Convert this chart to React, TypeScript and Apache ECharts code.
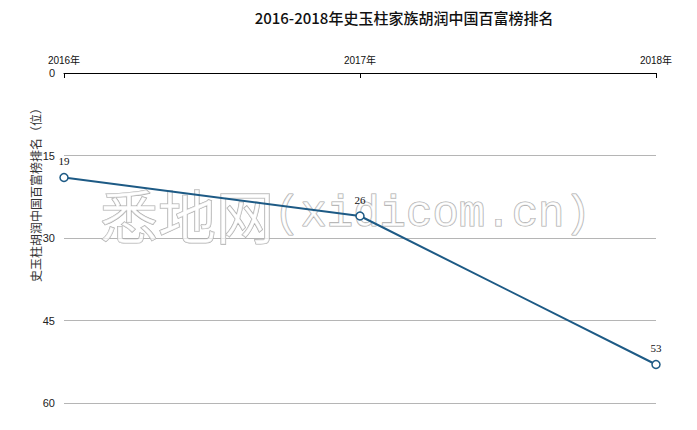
import React, { useEffect, useRef } from "react";
import * as echarts from "echarts";

const categories = ["2016年", "2017年", "2018年"];
const rankValues = [19, 26, 53];
const yTicks = { min: 0, max: 60, interval: 15 };
const titleText = "2016-2018年史玉柱家族胡润中国百富榜排名";
const yAxisName = "史玉柱胡润中国百富榜排名（位）";

export default function App() {
  const ref = useRef<HTMLDivElement>(null);
  useEffect(() => {
    if (!ref.current) return;
    const chart = echarts.init(ref.current, null, { renderer: "svg" });
    chart.setOption({
      animation: false,
      backgroundColor: "#ffffff",
      title: {
        text: titleText,
        left: 399,
        top: 5,
        textAlign: "center",
        textStyle: {
          fontFamily: "Noto Sans CJK SC",
          fontSize: 15,
          fontWeight: 500,
          color: "#111",
        },
      },
      grid: { left: 64, right: 41, top: 73, bottom: 27 },
      xAxis: {
        type: "category",
        position: "top",
        data: categories,
        boundaryGap: false,
        axisLine: { lineStyle: { color: "#000", width: 1 } },
        axisTick: { inside: true, length: 5, lineStyle: { color: "#000" } },
        axisLabel: {
          fontFamily: "Liberation Sans, Noto Sans CJK SC",
          fontSize: 10,
          color: "#111",
          margin: 8,
        },
        splitLine: { show: false },
      },
      yAxis: {
        type: "value",
        inverse: true,
        min: yTicks.min,
        max: yTicks.max,
        interval: yTicks.interval,
        axisLine: { show: false },
        axisTick: { show: false },
        axisLabel: {
          fontFamily: "Liberation Sans",
          fontSize: 11,
          color: "#222",
          margin: 9,
        },
        splitLine: { lineStyle: { color: "#b5b5b5", width: 1 } },
      },
      graphic: [
        {
          type: "text",
          x: 35,
          y: 192,
          rotation: Math.PI / 2,
          style: {
            text: yAxisName,
            fontFamily: "Noto Sans CJK SC",
            fontSize: 12,
            fill: "#333",
            align: "center",
            verticalAlign: "middle",
          },
        },
        {
          type: "text",
          x: 100,
          y: 214,
          z: 1,
          silent: true,
          style: {
            text: "{a|悉地网}{b|(xidicom.cn)}",
            verticalAlign: "middle",
            align: "left",
            rich: {
              a: {
                fontFamily: "Noto Sans CJK SC",
                fontSize: 58,
                fill: "rgba(255,255,255,0.7)",
                stroke: "#aaaaaa",
                lineWidth: 1.2,
              },
              b: {
                fontFamily: "Liberation Mono",
                fontSize: 44,
                fill: "rgba(255,255,255,0.7)",
                stroke: "#aaaaaa",
                lineWidth: 1.2,
              },
            },
          },
        },
      ],
      series: [
        {
          type: "line",
          z: 5,
          data: rankValues,
          symbol: "circle",
          symbolSize: 8,
          itemStyle: { color: "#ffffff", borderColor: "#1d5a85", borderWidth: 1.5 },
          lineStyle: { color: "#1d5a85", width: 2 },
          label: {
            show: true,
            position: "top",
            distance: 6,
            fontFamily: "Liberation Serif",
            fontSize: 11,
            color: "#111",
          },
        },
      ],
    });
    return () => chart.dispose();
  }, []);
  return (
    <div
      ref={ref}
      style={{ position: "fixed", left: 0, top: 0, width: 697, height: 430 }}
    />
  );
}
